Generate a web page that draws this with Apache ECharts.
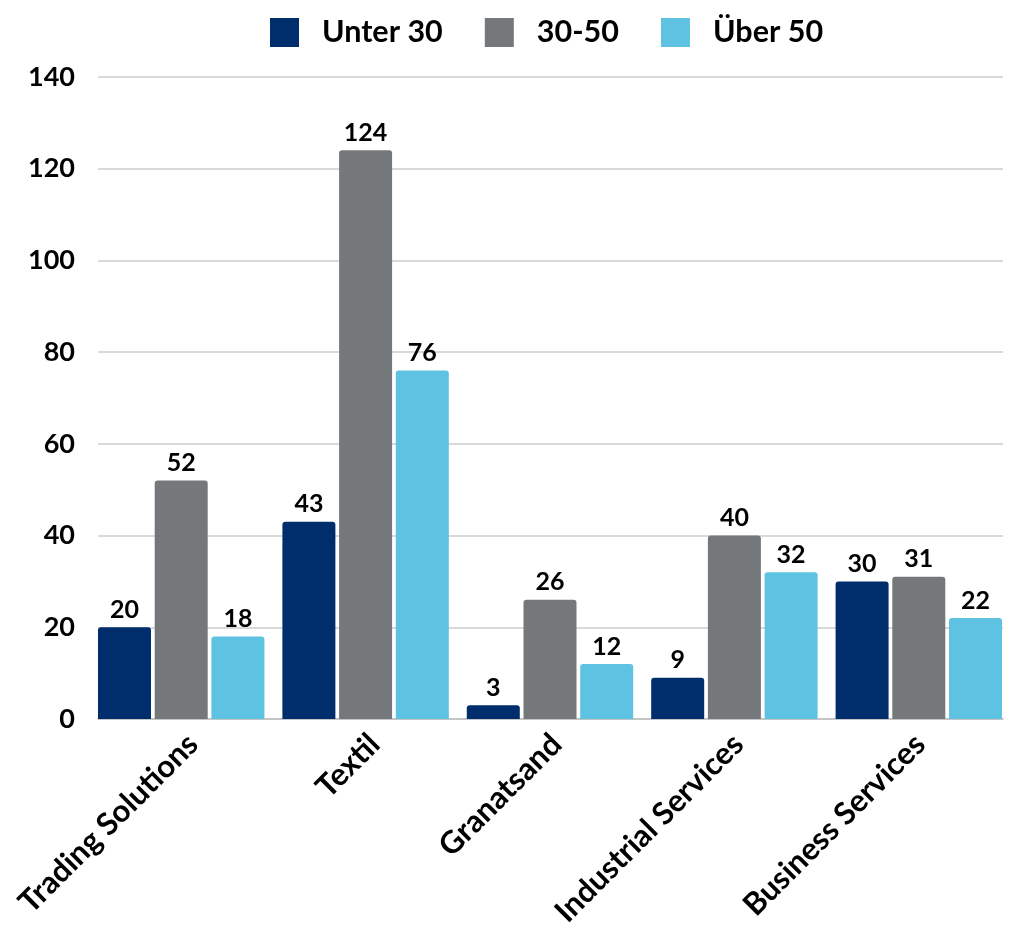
<!DOCTYPE html>
<html><head><meta charset="utf-8">
<script src="https://cdn.jsdelivr.net/npm/echarts@6/dist/echarts.min.js"></script>
<style>html,body{margin:0;padding:0;background:#fff}#c{width:1011px;height:930px}</style>
</head><body><div id="c"></div>
<script>
const categories = ['Trading Solutions', 'Textil', 'Granatsand', 'Industrial Services', 'Business Services'];
const seriesNames = ['Unter 30', '30-50', 'Über 50'];
const unter30 = [20, 43, 3, 9, 30];
const mid3050 = [52, 124, 26, 40, 31];
const ueber50 = [18, 76, 12, 32, 22];
const yTicks = { min: 0, max: 140, interval: 20 };

const colors = ['#002e6d', '#75787b', '#5ec2e2'];
const FONT = 'Lato';
const chart = echarts.init(document.getElementById('c'));
const values = [unter30, mid3050, ueber50];

chart.setOption({
  animation: false,
  textStyle: { fontFamily: FONT },
  legend: {
    top: 12, left: 265,
    itemWidth: 29, itemHeight: 29, itemGap: 42,
    icon: 'rect',
    textStyle: { fontFamily: FONT, fontWeight: 'bold', fontSize: 30.5, color: '#000', padding: [0, 0, 0, 18] },
    data: seriesNames
  },
  grid: [
    { left: 89, top: 77, width: 928, height: 642 },
    { left: 98, top: 77, right: 8, height: 642 },
    { left: 102, top: 77, width: 928, height: 642 }
  ],
  xAxis: [
    { type: 'category', gridIndex: 0, data: categories,
      axisLine: { show: false }, axisTick: { show: false }, axisLabel: { show: false } },
    { type: 'category', gridIndex: 1, data: categories,
      axisLine: { show: true, lineStyle: { color: '#bfbfbf', width: 1.5 } },
      axisTick: { show: false }, axisLabel: { show: false } },
    { type: 'category', gridIndex: 2, data: categories,
      axisLine: { show: false }, axisTick: { show: false },
      axisLabel: { interval: 0, rotate: 45, margin: 54,
        fontFamily: FONT, fontWeight: 'bold', fontSize: 31, color: '#000' } }
  ],
  yAxis: [
    { type: 'value', gridIndex: 0, min: yTicks.min, max: yTicks.max, interval: yTicks.interval,
      axisLabel: { show: false }, splitLine: { show: false }, axisLine: { show: false } },
    { type: 'value', gridIndex: 1, min: yTicks.min, max: yTicks.max, interval: yTicks.interval,
      axisLine: { show: false }, axisTick: { show: false },
      splitLine: { lineStyle: { color: '#cccccc', width: 1.5 } },
      axisLabel: { margin: 23, fontFamily: FONT, fontWeight: 'bold', fontSize: 27, color: '#000' } },
    { type: 'value', gridIndex: 2, min: yTicks.min, max: yTicks.max, interval: yTicks.interval,
      show: false }
  ],
  series: seriesNames.map((n, i) => ({
    name: n, type: 'bar', xAxisIndex: 0, yAxisIndex: 0,
    data: values[i], barWidth: 53, barGap: '7%',
    itemStyle: { color: colors[i], borderRadius: [3, 3, 0, 0] },
    label: { show: true, position: 'top', distance: 5,
      fontFamily: FONT, fontWeight: 'bold', fontSize: 25, color: '#000' }
  }))
});
</script></body></html>
